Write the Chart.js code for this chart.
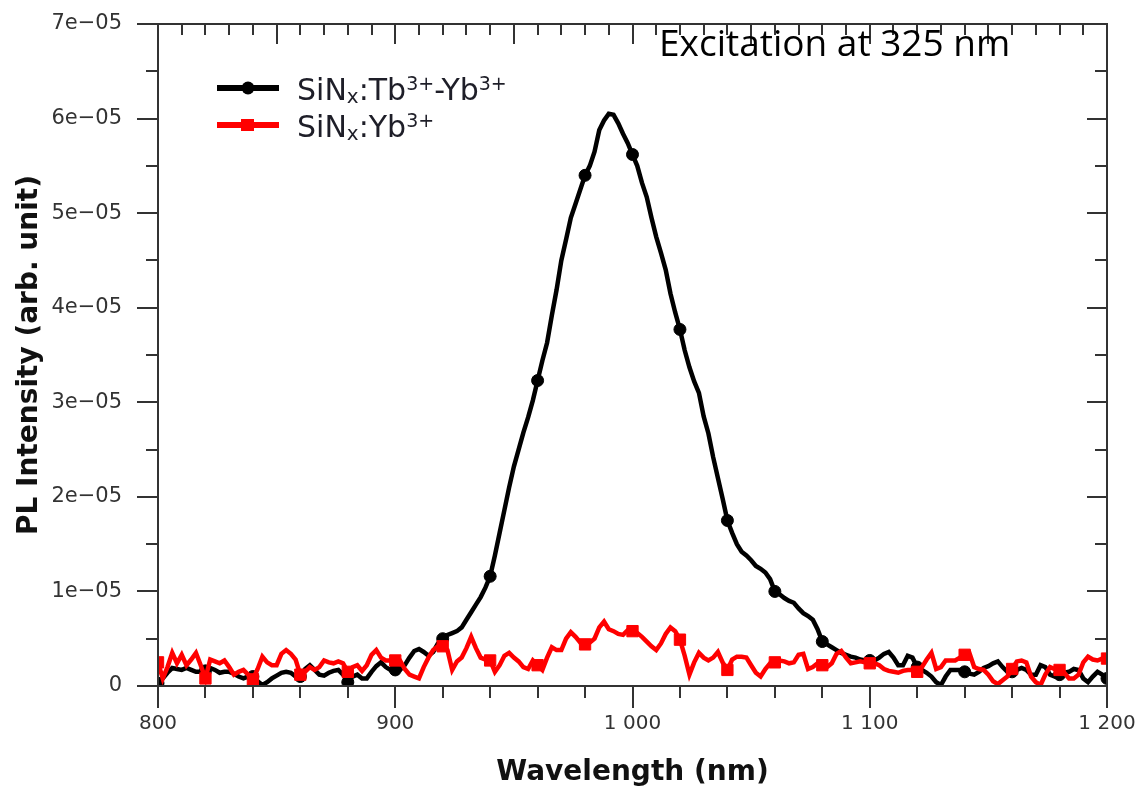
<!DOCTYPE html>
<html>
<head>
<meta charset="utf-8">
<script src="https://cdn.jsdelivr.net/npm/chart.js@4/dist/chart.umd.min.js"></script>
<style>
  html, body { margin: 0; padding: 0; background: #fff; }
  #wrap { width: 1138px; height: 793px; }
</style>
</head>
<body>
<div id="wrap"><canvas id="c" width="1138" height="793"></canvas></div>
<script>
// ---- DATA ----
const wavelengths = [
  800,802,804,806,808,810,812,814,816,818,
  820,822,824,826,828,830,832,834,836,838,
  840,842,844,846,848,850,852,854,856,858,
  860,862,864,866,868,870,872,874,876,878,
  880,882,884,886,888,890,892,894,896,898,
  900,902,904,906,908,910,912,914,916,918,
  920,922,924,926,928,930,932,934,936,938,
  940,942,944,946,948,950,952,954,956,958,
  960,962,964,966,968,970,972,974,976,978,
  980,982,984,986,988,990,992,994,996,998,
  1000,1002,1004,1006,1008,1010,1012,1014,1016,1018,
  1020,1022,1024,1026,1028,1030,1032,1034,1036,1038,
  1040,1042,1044,1046,1048,1050,1052,1054,1056,1058,
  1060,1062,1064,1066,1068,1070,1072,1074,1076,1078,
  1080,1082,1084,1086,1088,1090,1092,1094,1096,1098,
  1100,1102,1104,1106,1108,1110,1112,1114,1116,1118,
  1120,1122,1124,1126,1128,1130,1132,1134,1136,1138,
  1140,1142,1144,1146,1148,1150,1152,1154,1156,1158,
  1160,1162,1164,1166,1168,1170,1172,1174,1176,1178,
  1180,1182,1184,1186,1188,1190,1192,1194,1196,1198,
  1200
];

// PL intensity in units of 1e-05 (arb. unit)
const tbYbValues = [
  0.03,0.08,0.14,0.19,0.18,0.17,0.19,0.17,0.15,0.15,
  0.16,0.19,0.17,0.14,0.15,0.15,0.13,0.10,0.08,0.10,
  0.10,0.05,0.01,0.04,0.08,0.11,0.14,0.15,0.14,0.10,
  0.10,0.18,0.22,0.17,0.12,0.11,0.14,0.16,0.17,0.12,
  0.04,0.10,0.12,0.08,0.08,0.15,0.21,0.25,0.20,0.17,
  0.17,0.17,0.22,0.30,0.37,0.39,0.36,0.32,0.36,0.45,
  0.50,0.54,0.56,0.58,0.62,0.70,0.78,0.86,0.94,1.04,
  1.16,1.38,1.62,1.86,2.10,2.32,2.50,2.68,2.84,3.02,
  3.23,3.44,3.63,3.92,4.19,4.50,4.72,4.95,5.10,5.25,
  5.40,5.50,5.65,5.88,5.98,6.05,6.04,5.95,5.84,5.74,
  5.62,5.50,5.32,5.17,4.95,4.75,4.58,4.40,4.15,3.95,
  3.77,3.55,3.37,3.22,3.10,2.85,2.67,2.42,2.20,1.98,
  1.75,1.62,1.50,1.42,1.38,1.33,1.27,1.24,1.20,1.13,
  1.00,0.97,0.93,0.90,0.88,0.82,0.77,0.74,0.70,0.60,
  0.47,0.44,0.41,0.38,0.35,0.33,0.31,0.30,0.28,0.27,
  0.27,0.27,0.30,0.34,0.36,0.30,0.22,0.22,0.32,0.30,
  0.20,0.17,0.14,0.10,0.04,0.01,0.10,0.17,0.17,0.17,
  0.15,0.13,0.12,0.15,0.19,0.21,0.24,0.26,0.20,0.15,
  0.15,0.17,0.19,0.17,0.12,0.12,0.22,0.20,0.12,0.10,
  0.12,0.14,0.15,0.18,0.17,0.08,0.04,0.10,0.15,0.12,
  0.08
];

const ybValues = [
  0.25,0.08,0.20,0.35,0.24,0.33,0.22,0.28,0.35,0.22,
  0.08,0.28,0.26,0.24,0.27,0.20,0.12,0.15,0.17,0.12,
  0.07,0.18,0.31,0.25,0.22,0.22,0.34,0.38,0.34,0.28,
  0.12,0.15,0.20,0.17,0.20,0.27,0.25,0.24,0.26,0.24,
  0.15,0.20,0.22,0.16,0.22,0.33,0.38,0.30,0.27,0.27,
  0.27,0.27,0.18,0.12,0.10,0.08,0.20,0.30,0.38,0.42,
  0.42,0.38,0.17,0.26,0.30,0.40,0.52,0.40,0.30,0.28,
  0.27,0.15,0.22,0.32,0.35,0.30,0.26,0.20,0.18,0.27,
  0.22,0.17,0.30,0.41,0.38,0.38,0.50,0.57,0.52,0.46,
  0.44,0.46,0.50,0.62,0.68,0.60,0.58,0.55,0.54,0.59,
  0.58,0.56,0.52,0.47,0.42,0.38,0.45,0.55,0.62,0.58,
  0.49,0.32,0.12,0.25,0.35,0.30,0.27,0.30,0.36,0.25,
  0.17,0.28,0.31,0.31,0.30,0.22,0.14,0.10,0.18,0.24,
  0.25,0.27,0.26,0.24,0.25,0.33,0.34,0.18,0.20,0.24,
  0.22,0.20,0.24,0.34,0.37,0.30,0.24,0.25,0.26,0.25,
  0.24,0.24,0.22,0.18,0.16,0.15,0.14,0.16,0.17,0.17,
  0.15,0.20,0.28,0.35,0.18,0.20,0.27,0.27,0.27,0.30,
  0.33,0.35,0.20,0.18,0.17,0.12,0.05,0.02,0.06,0.10,
  0.18,0.26,0.27,0.25,0.10,0.04,0.01,0.12,0.20,0.18,
  0.17,0.14,0.08,0.08,0.12,0.25,0.31,0.28,0.27,0.29,
  0.29
];

const xTickValues = [800, 900, 1000, 1100, 1200];
const xTickLabels = ['800', '900', '1 000', '1 100', '1 200'];
const yTickValues = [0, 1, 2, 3, 4, 5, 6, 7];
const yTickLabels = ['0', '1e\u221205', '2e\u221205', '3e\u221205', '4e\u221205', '5e\u221205', '6e\u221205', '7e\u221205'];

// legend label parts: [text, 'n' normal | 'sub' | 'sup']
const seriesLabels = [
  [['SiN','n'],['x','sub'],[':Tb','n'],['3+','sup'],['-Yb','n'],['3+','sup']],
  [['SiN','n'],['x','sub'],[':Yb','n'],['3+','sup']]
];
const annotationText = 'Excitation at 325 nm';
const xTitle = 'Wavelength (nm)';
const yTitle = 'PL Intensity (arb. unit)';

// ---- CHART ----
const toXY = (vals) => wavelengths.map((w, i) => ({ x: w, y: vals[i] }));
const isMarker = (ctx) => wavelengths[ctx.dataIndex] % 20 === 0;

const AX = '#333333';

const framePlugin = {
  id: 'frame',
  afterDatasetsDraw(chart) {
    const { ctx, chartArea: a, scales: { x, y } } = chart;
    ctx.save();
    ctx.strokeStyle = AX;
    ctx.lineWidth = 2;
    ctx.lineCap = 'butt';
    ctx.beginPath();
    ctx.rect(a.left, a.top, a.right - a.left, a.bottom - a.top);
    ctx.stroke();
    ctx.beginPath();
    for (let v = 800; v <= 1200; v += 20) {
      const px = Math.round(x.getPixelForValue(v));
      const len = v % 100 === 0 ? 22 : 12;
      ctx.moveTo(px, a.bottom); ctx.lineTo(px, a.bottom + len);
    }
    for (let v = 800; v <= 1200; v += 10) {
      const px = Math.round(x.getPixelForValue(v));
      const len = v % 50 === 0 ? 20 : 11;
      ctx.moveTo(px, a.top); ctx.lineTo(px, a.top + len);
    }
    for (let v = 0; v <= 7.001; v += 0.5) {
      const py = Math.round(y.getPixelForValue(v));
      const len = Math.abs(v - Math.round(v)) < 1e-6 ? 21 : 12;
      ctx.moveTo(a.left, py); ctx.lineTo(a.left - len, py);
    }
    for (let v = 0; v <= 7.001; v += 0.5) {
      const py = Math.round(y.getPixelForValue(v));
      const len = Math.abs(v - Math.round(v)) < 1e-6 ? 20 : 12;
      ctx.moveTo(a.right, py); ctx.lineTo(a.right - len, py);
    }
    ctx.stroke();

    // annotation
    ctx.fillStyle = '#000';
    ctx.font = '37px "Open Sans"';
    ctx.textBaseline = 'alphabetic';
    ctx.textAlign = 'left';
    ctx.fillText(annotationText, 659, 56);

    // legend
    const rows = [{ yLine: 88, base: 100 }, { yLine: 125, base: 137 }];
    chart.data.datasets.forEach((ds, i) => {
      const r = rows[i];
      ctx.strokeStyle = ds.borderColor;
      ctx.lineWidth = 6;
      ctx.beginPath(); ctx.moveTo(217, r.yLine); ctx.lineTo(279, r.yLine); ctx.stroke();
      ctx.fillStyle = ds.borderColor;
      if (ds.pointStyle === 'rect') {
        ctx.fillRect(241, r.yLine - 6, 13, 12);
      } else {
        ctx.beginPath(); ctx.arc(248, r.yLine, 6.5, 0, Math.PI * 2); ctx.fill();
      }
      let cx = 297;
      ctx.fillStyle = '#1e1e28';
      seriesLabels[i].forEach(([t, kind]) => {
        let f = '30px "DejaVu Sans"', by = r.base;
        if (kind === 'sub') { f = '20px "DejaVu Sans"'; by = r.base + 3; }
        if (kind === 'sup') { f = '19px "DejaVu Sans"'; by = r.base - 10; }
        ctx.font = f;
        ctx.fillText(t, cx, by);
        cx += ctx.measureText(t).width;
      });
    });
    ctx.restore();
  }
};

const noPad = (s) => { s.paddingLeft = 0; s.paddingRight = 0; s.paddingTop = 0; s.paddingBottom = 0; };

new Chart(document.getElementById('c'), {
  type: 'line',
  data: {
    datasets: [
      {
        label: 'SiNx:Tb3+-Yb3+',
        data: toXY(tbYbValues),
        borderColor: '#000000',
        backgroundColor: '#000000',
        borderWidth: 4.5,
        tension: 0,
        pointStyle: 'circle',
        pointRadius: (c) => isMarker(c) ? 6 : 0,
        pointBorderWidth: 1,
        pointBackgroundColor: '#000000',
        pointBorderColor: '#000000',
        order: 2
      },
      {
        label: 'SiNx:Yb3+',
        data: toXY(ybValues),
        borderColor: '#ff0000',
        backgroundColor: '#ff0000',
        borderWidth: 4.5,
        tension: 0,
        pointStyle: 'rect',
        pointRadius: (c) => isMarker(c) ? 8 : 0,
        pointBorderWidth: 1,
        pointBackgroundColor: '#ff0000',
        pointBorderColor: '#ff0000',
        order: 1
      }
    ]
  },
  options: {
    responsive: false,
    animation: false,
    devicePixelRatio: 1,
    layout: { padding: { top: 24, right: 31, left: 13, bottom: 3 } },
    plugins: { legend: { display: false }, tooltip: { enabled: false }, title: { display: false } },
    scales: {
      x: {
        type: 'linear',
        min: 800, max: 1200,
        grid: { display: false },
        border: { display: false },
        afterBuildTicks: (s) => { s.ticks = xTickValues.map(v => ({ value: v })); },
        afterFit: (s) => { s.height = 104; noPad(s); },
        ticks: {
          autoSkip: false, maxRotation: 0,
          padding: 18,
          color: '#333',
          font: { family: 'DejaVu Sans', size: 20 },
          callback: (v, i) => xTickLabels[i]
        },
        title: {
          display: true, text: xTitle, color: '#111',
          font: { family: 'DejaVu Sans', size: 28, weight: 'bold' },
          padding: { top: 0, bottom: 0 }
        }
      },
      y: {
        type: 'linear',
        min: 0, max: 7,
        grid: { display: false },
        border: { display: false },
        afterBuildTicks: (s) => { s.ticks = yTickValues.map(v => ({ value: v })); },
        afterFit: (s) => { s.width = 145; noPad(s); },
        ticks: {
          autoSkip: false,
          padding: 28,
          color: '#333',
          font: { family: 'DejaVu Sans', size: 21 },
          callback: (v, i) => yTickLabels[i]
        },
        title: {
          display: true, text: yTitle, color: '#111',
          font: { family: 'DejaVu Sans', size: 28, weight: 'bold' },
          padding: { top: 0, bottom: 0 }
        }
      }
    }
  },
  plugins: [framePlugin]
});
</script>
</body>
</html>
